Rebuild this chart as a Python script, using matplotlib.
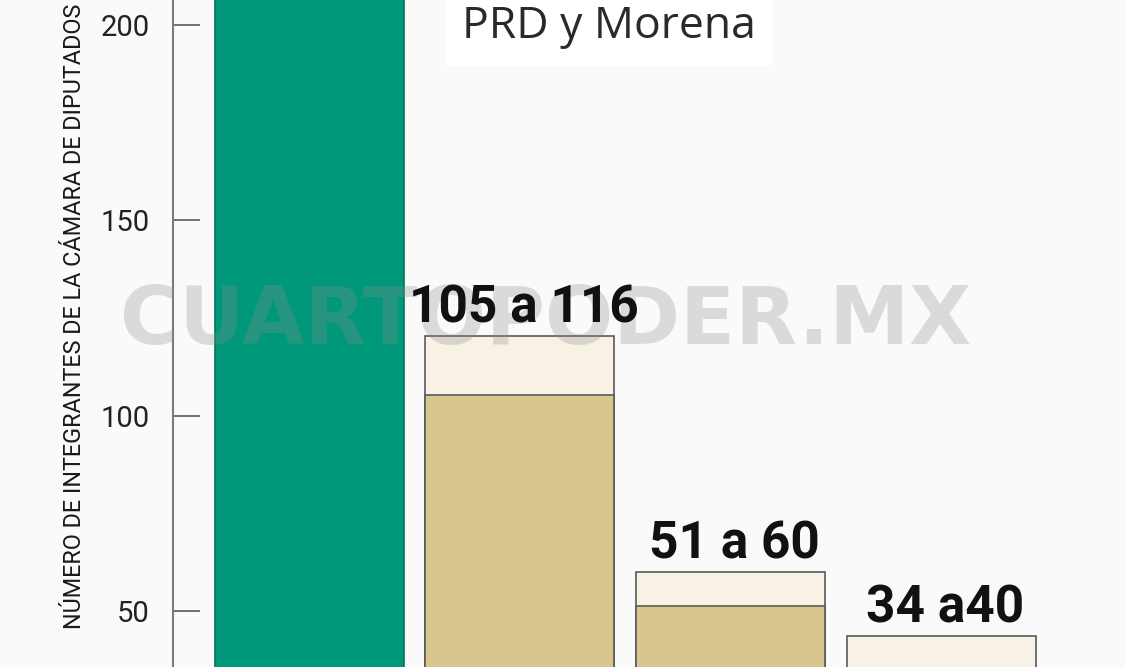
import matplotlib
matplotlib.use("Agg")
import matplotlib.pyplot as plt

# ---- data ----
categories = ["PRI", "PAN", "PRD", "Morena"]
upper_values = [250, 120.3, 59.9, 43.5]     # top of each bar (light part)
lower_values = [250, 105.2, 51.2, 34.0]     # top of the darker part
range_labels = ["", "105 a 116", "51 a 60", "34 a40"]
yticks = [50, 100, 150, 200]
title_text = "PRD y Morena"
ylabel_text = "NÚMERO DE INTEGRANTES DE LA CÁMARA DE DIPUTADOS"
watermark = "CUARTOPODER.MX"

BG = "#FAFAFA"
GREEN = "#00987A"
GREEN_EDGE = "#00785F"
TAN = "#D9C68E"
LIGHT = "#F7F1E6"
EDGE = "#5A5A5A"

narrow = ["Roboto", "DejaVu Sans"]

W, H = 1148.0, 667.0
fig = plt.figure(figsize=(11.25, 6.67), dpi=100, facecolor=BG)
ax = fig.add_axes([177 / W, 0.0, 1 - 177 / W, 1.0], facecolor=BG)

x = list(range(len(categories)))
width = 0.898
for i in x:
    if i == 0:
        ax.bar(i, upper_values[i], width=width, color=GREEN, edgecolor=GREEN_EDGE,
               linewidth=1.2, zorder=2)
    else:
        ax.bar(i, upper_values[i], width=width, color=LIGHT, edgecolor=EDGE,
               linewidth=1.2, zorder=2)
        ax.bar(i, lower_values[i], width=width, color=TAN, edgecolor=EDGE,
               linewidth=1.2, zorder=3)
        ax.text(i + 0.02, upper_values[i] + 3.5, range_labels[i], ha="center",
                va="baseline", fontsize=37, fontweight="bold", family=narrow,
                color="#111111", zorder=5)

ax.set_xlim(-0.644, 3.872)
ax.set_ylim(35.66, 206.4)

for s in ["top", "right", "bottom"]:
    ax.spines[s].set_visible(False)
ax.spines["left"].set_color("#7A7A7A")
ax.spines["left"].set_linewidth(1.5)
ax.set_xticks([])
ax.set_yticks(yticks)
ax.set_yticklabels([str(t) for t in yticks], family=narrow, fontsize=21,
                   color="#222222")
ax.tick_params(axis="y", direction="in", length=19.5, width=1.3,
               colors="#666666", pad=17, labelcolor="#222222")

# y label
fig.text(76 / W, 1 - 316 / H, ylabel_text, rotation=90, ha="center",
         va="center", family=narrow, fontsize=16.8, color="#1a1a1a")

# title fragment at top
fig.text(621 / W, 1 - 27 / H, title_text, ha="center", va="center",
         family=["Open Sans", "DejaVu Sans"], fontsize=32, color="#2a2a2a",
         bbox=dict(facecolor="white", edgecolor="none", pad=12))

# watermark (above bars, below value labels)
ax.text(557 / W, 1 - 322 / H, watermark, ha="center", va="center",
        transform=fig.transFigure, family=["DejaVu Sans"], fontweight="bold",
        fontsize=58, color="#8A8A8A", alpha=0.28, zorder=4)

fig.savefig("out.png", dpi=100, facecolor=BG)
